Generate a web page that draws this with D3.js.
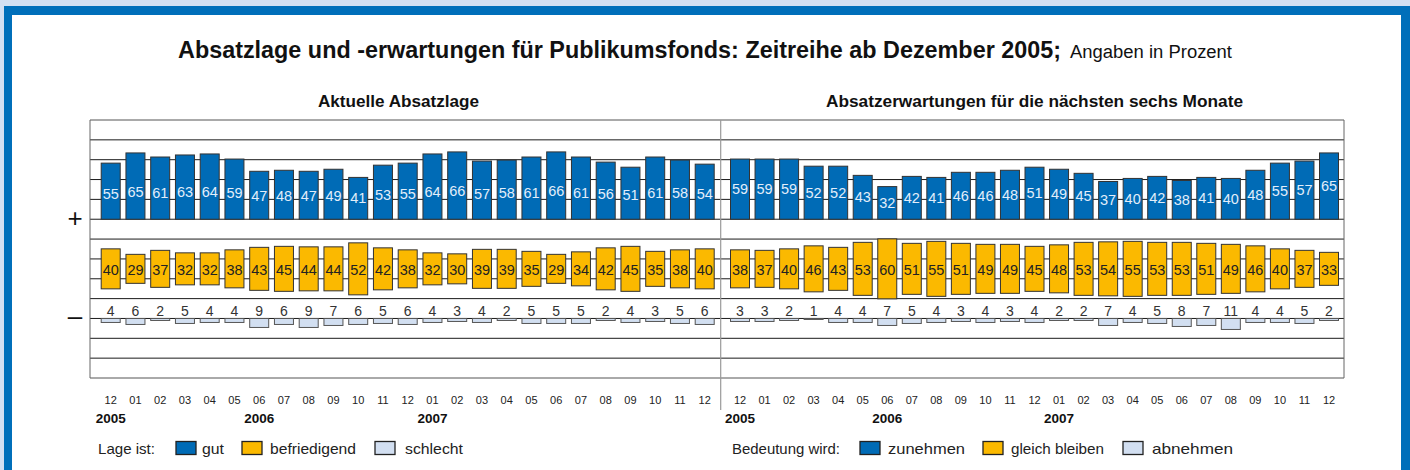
<!DOCTYPE html>
<html><head><meta charset="utf-8">
<script src="https://cdn.jsdelivr.net/npm/d3@7"></script>
<style>
html,body{margin:0;padding:0;background:#d3e0f2;}
svg{display:block;}
text{font-family:"Liberation Sans Narrow","Liberation Sans",Arial,sans-serif;}
</style></head>
<body><svg id="c" width="1410" height="470"></svg>
<script>
// ---- data ----
const months = ["12","01","02","03","04","05","06","07","08","09","10","11","12","01","02","03","04","05","06","07","08","09","10","11","12"];
const yearLabels = ["2005","2006","2007"];
const yearMonthIndex = [0, 6, 13];

const lageGut = [55,65,61,63,64,59,47,48,47,49,41,53,55,64,66,57,58,61,66,61,56,51,61,58,54];
const lageBefriedigend = [40,29,37,32,32,38,43,45,44,44,52,42,38,32,30,39,39,35,29,34,42,45,35,38,40];
const lageSchlecht = [4,6,2,5,4,4,9,6,9,7,6,5,6,4,3,4,2,5,5,5,2,4,3,5,6];

const erwZunehmen = [59,59,59,52,52,43,32,42,41,46,46,48,51,49,45,37,40,42,38,41,40,48,55,57,65];
const erwGleich = [38,37,40,46,43,53,60,51,55,51,49,49,45,48,53,54,55,53,53,51,49,46,40,37,33];
const erwAbnehmen = [3,3,2,1,4,4,7,5,4,3,4,3,4,2,2,7,4,5,8,7,11,4,4,5,2];

const title = "Absatzlage und -erwartungen für Publikumsfonds: Zeitreihe ab Dezember 2005;";
const titleNote = "Angaben in Prozent";
const panelTitles = ["Aktuelle Absatzlage", "Absatzerwartungen für die nächsten sechs Monate"];
const legendLeft = {label:"Lage ist:", items:["gut","befriedigend","schlecht"]};
const legendRight = {label:"Bedeutung wird:", items:["zunehmen","gleich bleiben","abnehmen"]};

// ---- styles ----
const C_BLUE = "#006bb6", C_YEL = "#fbb900", C_LIGHT = "#d2dff1", C_STROKE = "#333";

const svg = d3.select("#c");

// frame
svg.append("rect").attr("x",0).attr("y",0).attr("width",1410).attr("height",470).attr("fill","#d3e0f2");
svg.append("rect").attr("x",4).attr("y",6).attr("width",1406).attr("height",470).attr("fill","#006fba");
svg.append("rect").attr("x",12).attr("y",15).attr("width",1389).attr("height",470).attr("fill","#fff");

// title
const t = svg.append("text").attr("x",178).attr("y",58).attr("font-size",23).attr("font-weight","bold").attr("fill","#111");
t.append("tspan").text(title).attr("textLength",883).attr("lengthAdjust","spacingAndGlyphs");
svg.append("text").attr("x",1070).attr("y",58).attr("font-size",18).attr("fill","#111")
  .attr("textLength",162).attr("lengthAdjust","spacingAndGlyphs").text(titleNote);

// grid
const gridY = d3.scaleLinear().domain([0,13]).range([120,378]);
const boxL = 90, boxR = 1344, divX = 720.7;
d3.range(14).forEach(i=>{
  svg.append("line").attr("x1",boxL).attr("x2",boxR).attr("y1",gridY(i)).attr("y2",gridY(i))
    .attr("stroke", (i===0||i===13)?"#555":"#1a1a1a").attr("stroke-width",1);
});
svg.append("line").attr("x1",boxL).attr("x2",boxL).attr("y1",gridY(0)).attr("y2",gridY(13)).attr("stroke","#666");
svg.append("line").attr("x1",boxR).attr("x2",boxR).attr("y1",gridY(0)).attr("y2",gridY(13)).attr("stroke","#666");
svg.append("line").attr("x1",divX).attr("x2",divX).attr("y1",gridY(0)).attr("y2",410).attr("stroke","#999").attr("stroke-width",1.2);

// plus/minus
svg.append("text").attr("x",75).attr("y",gridY(5)+8).attr("text-anchor","middle").attr("font-size",26).attr("fill","#111").text("+");
svg.append("text").attr("x",75).attr("y",gridY(10)+7).attr("text-anchor","middle").attr("font-size",26).attr("fill","#111").text("–");

const unit = 1.02;
const yTop = d3.scaleLinear().domain([0,100]).range([gridY(5), gridY(5)-100*unit]);
const yMidC = (gridY(7)+gridY(8))/2;
const yMid = d3.scaleLinear().domain([0,100]).range([0,100]); // height in px
const yBot = d3.scaleLinear().domain([0,100]).range([gridY(10), gridY(10)+100]);
const barW = 19;

function panel(xRange, top, mid, bot, ptitle, titleX, titleW, labelShift, legend, legX){
  const x = d3.scalePoint().domain(d3.range(months.length)).range(xRange);
  svg.append("text").attr("x",titleX).attr("y",107).attr("font-size",16).attr("font-weight","bold").attr("fill","#111")
    .attr("textLength",titleW).attr("lengthAdjust","spacingAndGlyphs").text(ptitle);
  const g = svg.append("g");
  // top bars
  g.selectAll(".t").data(top).join("rect")
    .attr("x",(d,i)=>x(i)-barW/2).attr("width",barW)
    .attr("y",d=>yTop(d)).attr("height",d=>yTop(0)-yTop(d))
    .attr("fill",C_BLUE).attr("stroke",C_STROKE).attr("stroke-width",1);
  g.selectAll(".tl").data(top).join("text")
    .attr("x",(d,i)=>x(i)).attr("y",d=>{const c=(yTop(d)+yTop(0))/2; return (labelShift? (c+197)/2 : c)+5;})
    .attr("text-anchor","middle").attr("font-size",14.5).attr("fill","#e3eefa").text(d=>d);
  // middle bars
  g.selectAll(".m").data(mid).join("rect")
    .attr("x",(d,i)=>x(i)-barW/2).attr("width",barW)
    .attr("y",d=>yMidC-yMid(d)/2).attr("height",d=>yMid(d))
    .attr("fill",C_YEL).attr("stroke",C_STROKE).attr("stroke-width",1);
  g.selectAll(".ml").data(mid).join("text")
    .attr("x",(d,i)=>x(i)).attr("y",yMidC+6)
    .attr("text-anchor","middle").attr("font-size",14.5).attr("fill","#222").text(d=>d);
  // bottom bars
  g.selectAll(".b").data(bot).join("rect")
    .attr("x",(d,i)=>x(i)-barW/2).attr("width",barW)
    .attr("y",yBot(0)).attr("height",d=>yBot(d)-yBot(0))
    .attr("fill",C_LIGHT).attr("stroke","#555").attr("stroke-width",1);
  g.selectAll(".bl").data(bot).join("text")
    .attr("x",(d,i)=>x(i)).attr("y",yBot(0)-2.5)
    .attr("text-anchor","middle").attr("font-size",14).attr("fill","#333").text(d=>d);
  // months
  g.selectAll(".mo").data(months).join("text")
    .attr("x",(d,i)=>x(i)).attr("y",404).attr("text-anchor","middle").attr("font-size",11).attr("fill","#222").text(d=>d);
  g.selectAll(".yr").data(yearLabels).join("text")
    .attr("x",(d,i)=>x(yearMonthIndex[i])).attr("y",423).attr("text-anchor","middle")
    .attr("font-size",13.5).attr("font-weight","bold").attr("fill","#111").text(d=>d);
  // legend
  const lg = svg.append("g").attr("transform",`translate(${legX[0]},0)`);
  lg.append("text").attr("x",0).attr("y",454).attr("font-size",15).attr("fill","#222")
    .attr("textLength",legX[1]).attr("lengthAdjust","spacingAndGlyphs").text(legend.label);
  const fills = [C_BLUE,C_YEL,C_LIGHT];
  legend.items.forEach((it,k)=>{
    lg.append("rect").attr("x",legX[2+k*3]-legX[0]).attr("y",441.5).attr("width",20).attr("height",13)
      .attr("fill",fills[k]).attr("stroke","#222").attr("stroke-width",1.3);
    lg.append("text").attr("x",legX[3+k*3]-legX[0]).attr("y",454).attr("font-size",15).attr("fill","#222")
      .attr("textLength",legX[4+k*3]).attr("lengthAdjust","spacingAndGlyphs").text(it);
  });
}

panel([110.7,704.7], lageGut, lageBefriedigend, lageSchlecht, panelTitles[0], 318, 161, true, legendLeft,
  [98, 57, 176, 202, 22, 242, 270, 86, 375, 405, 58]);
panel([740,1329], erwZunehmen, erwGleich, erwAbnehmen, panelTitles[1], 826, 417, false, legendRight,
  [732, 108, 860, 888, 77, 983, 1011, 93, 1123, 1152, 81]);
</script></body></html>
